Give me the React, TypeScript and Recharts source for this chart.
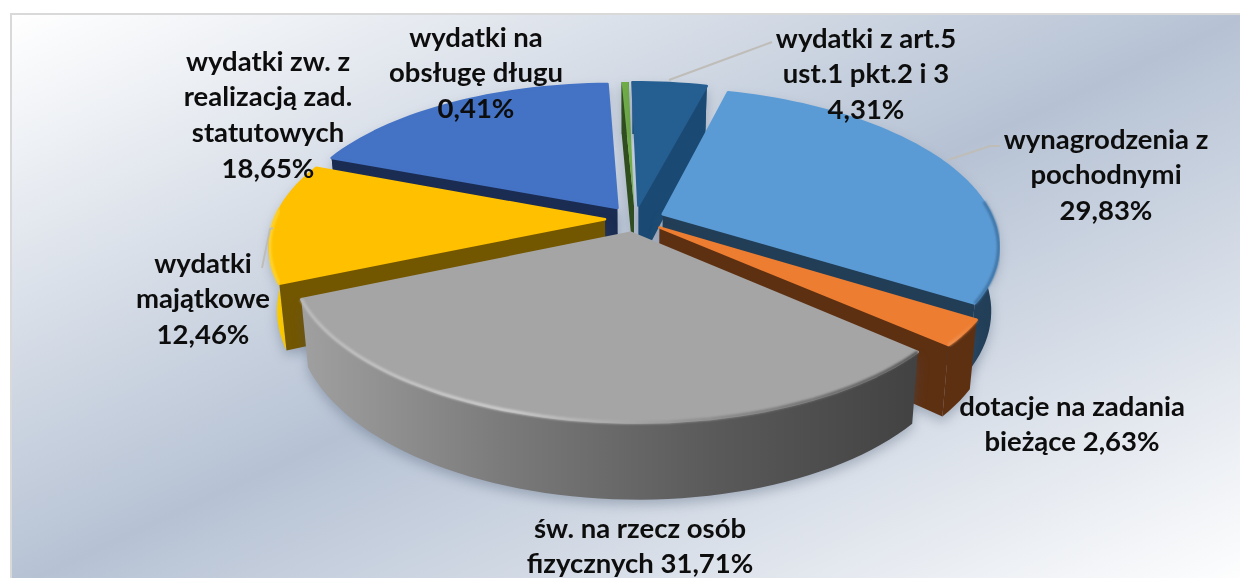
import React from "react"
import { PieChart, Pie } from "recharts"

const names = [
  "wydatki z art.5 ust.1 pkt.2 i 3",
  "wynagrodzenia z pochodnymi",
  "dotacje na zadania bieżące",
  "św. na rzecz osób fizycznych",
  "wydatki majątkowe",
  "wydatki zw. z realizacją zad. statutowych",
  "wydatki na obsługę długu",
]
const values = [4.31, 29.83, 2.63, 31.71, 12.46, 18.65, 0.41]

const labelLines = [
  ["wydatki z art.5", "ust.1 pkt.2 i 3", "{v}"],
  ["wynagrodzenia z", "pochodnymi", "{v}"],
  ["dotacje na zadania", "bieżące {v}"],
  ["św. na rzecz osób", "fizycznych {v}"],
  ["wydatki", "majątkowe", "{v}"],
  ["wydatki zw. z", "realizacją zad.", "statutowych", "{v}"],
  ["wydatki na", "obsługę długu", "{v}"],
]

const topColors = ["#255e91", "#5b9bd5", "#ed7d31", "#a5a5a5", "#ffc000", "#4472c4", "#70ad47"]
const cutColors = ["#1a4a73", "#223e57", "#5e3012", "#4a4a4a", "#735600", "#1b2c52", "#2f4d1e"]
const wallColors = [
  ["#1a4a73", "#1a4a73"],
  ["#2c5273", "#223e57"],
  ["#5e3012", "#5e3012"],
  ["#a0a0a0", "#7a7a7a", "#5a5a5a", "#424242"],
  ["#ffd000", "#e0a800"],
  ["#1b2c52", "#1b2c52"],
  ["#2f4d1e", "#2f4d1e"],
]
const rimColors = [
  ["#255e91", "#255e91"],
  ["#5b9bd5", "#3f73a3"],
  ["#f09a5e", "#ed7d31"],
  ["#bdbdbd", "#cfcfcf", "#8a8a8a", "#505050"],
  ["#ffd633", "#ffc000"],
  ["#4472c4", "#4472c4"],
  ["#70ad47", "#70ad47"],
]

const labelCenters = [
  [866, 37], [1106, 138], [1072, 405], [640, 527], [203, 262], [268, 60], [476, 36],
]
const leaders: Record<number, string> = {
  0: "M669 80 L745 52 L772 42",
  1: "M948 160 L990 146 L1000 146",
  4: "M262 268 L270 229 L273 228",
}

// back to front, one Pie per slice so the overlaps come out right
const drawOrder = [6, 0, 5, 1, 4, 2, 3]

const rows = names.map((name, i) => ({ name, value: values[i], idx: i }))

const PERSPECTIVE = 0.18
const TILT = 0.455
const SKEW = 0.02
const DEPTH = 62
const EXPLODE = 30

function makeShape(only: number) {
  return function SliceShape(props: any) {
    const { cx, cy, outerRadius: R, startAngle, endAngle, payload } = props
    const i = payload.idx
    if (i !== only) return <g />
    const a0 = 90 - startAngle
    const a1 = 90 - endAngle
    const mid = (((a0 + a1) / 2) * Math.PI) / 180
    const ox = EXPLODE * Math.sin(mid)
    const oy = -EXPLODE * Math.cos(mid)

    const project = (r: number, deg: number, z: number) => {
      const t = (deg * Math.PI) / 180
      const px = ox + r * Math.sin(t)
      const py = oy - r * Math.cos(t)
      const s = 1 / (1 - (PERSPECTIVE * py) / R)
      const shrink = z > 0 ? 0.98 : 1
      return [cx + s * (px * shrink + SKEW * py), cy + s * (py * TILT + z)]
    }
    const sweep = (z: number) => {
      const out: { deg: number; p: number[] }[] = []
      const n = Math.max(2, Math.ceil((a1 - a0) / 2))
      for (let k = 0; k <= n; k++) {
        const deg = a0 + ((a1 - a0) * k) / n
        out.push({ deg, p: project(R, deg, z) })
      }
      return out
    }
    const line = (pts: number[][]) => "M" + pts.map((p) => p[0].toFixed(1) + " " + p[1].toFixed(1)).join("L")
    const poly = (pts: number[][]) => line(pts) + "Z"

    const topArc = sweep(0).map((o) => o.p)
    const botArc = sweep(DEPTH).map((o) => o.p)
    const rimArc = sweep(0)
      .filter((o) => Math.cos((o.deg * Math.PI) / 180) < 0.1)
      .map((o) => o.p)
    const apexTop = project(0, a0, 0)
    const apexBot = project(0, a0, DEPTH)
    const xs = botArc.concat(topArc).map((p) => p[0])
    const x1 = Math.min(...xs)
    const x2 = Math.max(...xs)

    const cut = (edgeDeg: number) =>
      poly([apexTop, project(R, edgeDeg, 0), project(R, edgeDeg, DEPTH), apexBot])
    const sin0 = Math.sin((a0 * Math.PI) / 180)
    const sin1 = Math.sin((a1 * Math.PI) / 180)

    const grad = (id: string, cols: string[]) => (
      <linearGradient id={id} gradientUnits="userSpaceOnUse" x1={x1} x2={x2} y1={0} y2={0}>
        {cols.map((c, k) => (
          <stop key={k} offset={k / (cols.length - 1)} stopColor={c} />
        ))}
      </linearGradient>
    )

    return (
      <g>
        <defs>
          {grad("wall" + i, wallColors[i])}
          {grad("rim" + i, rimColors[i])}
          <filter id={"soft" + i} x="-5%" y="-5%" width="110%" height="110%">
            <feGaussianBlur stdDeviation="1.2" />
          </filter>
        </defs>
        <g style={{ filter: "drop-shadow(0 5px 6px rgba(70,85,110,0.35))" }}>
          <path d={poly(topArc.concat(botArc.slice().reverse()))} fill={`url(#wall${i})`} />
          {sin0 < 0 && <path d={cut(a0)} fill={cutColors[i]} />}
          {sin1 > 0 && <path d={cut(a1)} fill={cutColors[i]} />}
        </g>
        <path
          d={poly([apexTop, ...topArc])}
          fill={topColors[i]}
          stroke={values[i] > 2 ? topColors[i] : "none"}
          strokeWidth={2.5}
          strokeLinejoin="round"
        />
        {rimArc.length > 1 && (
          <path d={line(rimArc)} fill="none" stroke={`url(#rim${i})`} strokeWidth={3} filter={`url(#soft${i})`} />
        )}
      </g>
    )
  }
}

function SliceLabel(props: any) {
  const i = props.index
  const [x, y] = labelCenters[i]
  const text = labelLines[i].map((l) => l.replace("{v}", values[i].toFixed(2).replace(".", ",") + "%"))
  return (
    <g>
      {leaders[i] && <path d={leaders[i]} fill="none" stroke="#bfbdb8" strokeWidth={2} />}
      {text.map((t, k) => (
        <text
          key={k}
          x={x}
          y={y + k * 35.7}
          textAnchor="middle"
          dominantBaseline="central"
          fontFamily="Lato, 'Noto Sans', sans-serif"
          fontWeight={700}
          fontSize={27.5}
          fill="#0d0d0d"
        >
          {t}
        </text>
      ))}
    </g>
  )
}

export default function App() {
  return (
    <div style={{ position: "absolute", left: 0, top: 0, width: 1240, height: 578, background: "#fff", overflow: "hidden" }}>
      <div
        style={{
          position: "absolute",
          left: 10,
          top: 13,
          width: 1240,
          height: 578,
          boxSizing: "border-box",
          border: "2px solid #d9d9d9",
          background: "linear-gradient(to bottom right, #ffffff 0%, #b6c2d4 50%, #ffffff 100%)",
        }}
      />
      <div style={{ position: "absolute", left: 0, top: 0, filter: "blur(0.5px)" }}>
        <PieChart width={1240} height={578} margin={{ top: 0, right: 0, bottom: 0, left: 0 }}>
          {drawOrder.map((only, n) => (
            <Pie
              key={only}
              data={rows}
              dataKey="value"
              nameKey="name"
              cx={635}
              cy={219}
              innerRadius={0}
              outerRadius={330}
              startAngle={90}
              endAngle={-270}
              stroke="none"
              shape={makeShape(only)}
              label={n === drawOrder.length - 1 ? SliceLabel : false}
              labelLine={false}
              isAnimationActive={false}
            />
          ))}
        </PieChart>
      </div>
    </div>
  )
}
